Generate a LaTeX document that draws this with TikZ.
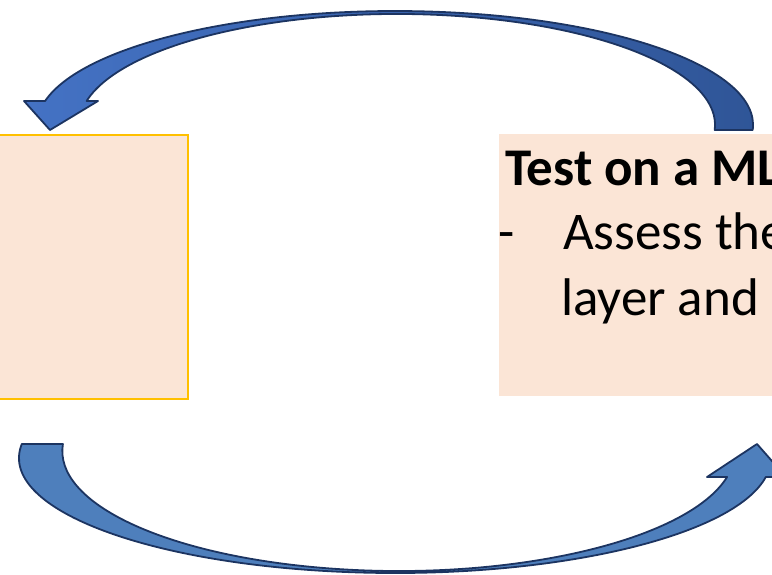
\documentclass[tikz,border=0pt]{standalone}
\usepackage{fontspec}
\setmainfont{Carlito}
\definecolor{boxfill}{HTML}{FBE5D6}
\definecolor{boxline}{HTML}{FFC000}
\definecolor{arrowedge}{HTML}{1C3461}
\definecolor{topL}{HTML}{4472C4}
\definecolor{topR}{HTML}{2F5597}
\definecolor{botfill}{HTML}{4E7FBC}
\begin{document}
\begin{tikzpicture}[x=1pt,y=1pt,yscale=-1,
  boxbase/.style={rectangle, inner sep=0pt, anchor=north west, fill=boxfill},
  leftbox/.style={boxbase, draw=boxline, line width=1.5pt, minimum width=197pt, minimum height=264pt},
  rightbox/.style={boxbase, minimum width=300pt, minimum height=262pt},
  txt/.style={inner sep=0pt, anchor=base west, font=\fontsize{53}{64}\selectfont},
  arrowline/.style={draw=arrowedge, line width=1.8pt, line join=round}
]
\useasboundingbox (0,0) rectangle (772,574);
\clip (0,0) rectangle (772,574);

% boxes
\node[leftbox] (lbox) at (-10,134) {};
\node[rightbox] (rbox) at (499,134) {};

% text in right box
\node[txt] (title) at (505,185) {\bfseries Test on a MLP};
\node[txt] (dash) at (498,249) {-};
\node[txt] (line1) at (563,249) {Assess the};
\node[txt] (line2) at (561,315) {layer and};

% top curved arrow (right box -> left box)
\path[arrowline, left color=topL, right color=topR]
  (752.7,130) arc[start angle=2.51, end angle=-167.8, x radius=358, y radius=114]
  -- (24,101) -- (50,130) -- (98,101) -- (86.6,101)
  arc[start angle=-167.52, end angle=2.58, x radius=318, y radius=111]
  -- cycle;

% bottom curved arrow (left box -> right box)
\path[arrowline, fill=botfill]
  (21.8,444) arc[start angle=186.99, end angle=9.51, x radius=376, y radius=115]
  -- (786,477) -- (757,444) -- (707,477) -- (727.1,477)
  arc[start angle=12.51, end angle=183.34, x radius=336.4, y radius=120]
  -- cycle;
\end{tikzpicture}
\end{document}
